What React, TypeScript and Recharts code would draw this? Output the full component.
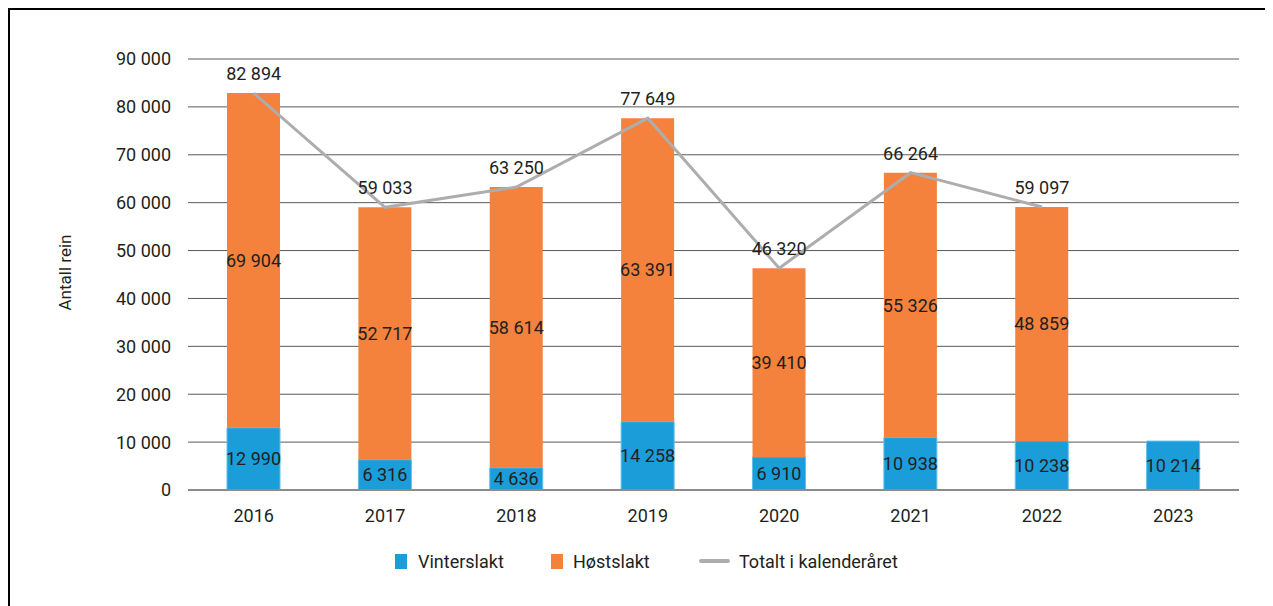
import React from 'react';
import { ComposedChart, Bar, Line, XAxis, YAxis, CartesianGrid, Legend, LabelList } from 'recharts';

const years = ['2016', '2017', '2018', '2019', '2020', '2021', '2022', '2023'];
const vinterslakt = [12990, 6316, 4636, 14258, 6910, 10938, 10238, 10214];
const hostslakt: (number | null)[] = [69904, 52717, 58614, 63391, 39410, 55326, 48859, null];
const totalt: (number | null)[] = [82894, 59033, 63250, 77649, 46320, 66264, 59097, null];
const yTicks = [0, 10000, 20000, 30000, 40000, 50000, 60000, 70000, 80000, 90000];

const data = years.map((y, i) => ({
  year: y,
  vinter: vinterslakt[i],
  host: hostslakt[i],
  total: totalt[i],
}));

const FONT = 'Roboto, "Open Sans", sans-serif';
const TEXT = '#231f20';
const BLUE = '#1a9dd9';
const ORANGE = '#f4813c';
const GRAY = '#adadb0';

const fmt = (v: any) => {
  if (v === null || v === undefined || v === '') return '';
  return String(v).replace(/\B(?=(\d{3})+(?!\d))/g, ' ');
};

const LegendContent = () => (
  <div
    style={{
      display: 'flex',
      justifyContent: 'flex-start',
      alignItems: 'center',
      height: 36,
      fontFamily: FONT,
      fontSize: 18,
      color: TEXT,
      paddingLeft: 385,
      boxSizing: 'border-box',
      whiteSpace: 'nowrap',
    }}
  >
    <div style={{ display: 'flex', alignItems: 'center', width: 156 }}>
      <span style={{ display: 'inline-block', width: 12, height: 15, background: BLUE, marginRight: 11 }} />
      <span>Vinterslakt</span>
    </div>
    <div style={{ display: 'flex', alignItems: 'center', width: 148 }}>
      <span style={{ display: 'inline-block', width: 12, height: 15, background: ORANGE, marginRight: 10 }} />
      <span>Høstslakt</span>
    </div>
    <div style={{ display: 'flex', alignItems: 'center' }}>
      <span style={{ display: 'inline-block', width: 31, height: 4, borderRadius: 2, background: GRAY, marginRight: 9 }} />
      <span>Totalt i kalenderåret</span>
    </div>
  </div>
);

const YLabel = (props: any) => {
  const vb = props.viewBox || { x: 0, y: 0, width: 0, height: 0 };
  const x = vb.x + 55;
  const y = vb.y + vb.height / 2 - 2;
  return (
    <text
      x={x}
      y={y}
      transform={`rotate(-90, ${x}, ${y})`}
      textAnchor="middle"
      dominantBaseline="central"
      fontFamily={FONT}
      fontSize={17}
      fill={TEXT}
    >
      Antall rein
    </text>
  );
};

export default function App() {
  return (
    <div
      style={{
        width: 1263,
        height: 596,
        borderLeft: '2px solid #000',
        borderTop: '2px solid #000',
        background: '#fff',
        overflow: 'hidden',
      }}
    >
      <ComposedChart
        width={1263}
        height={596}
        data={data}
        margin={{ top: 49, right: 34, bottom: 35, left: 0 }}
        barCategoryGap={0}
      >
        <CartesianGrid vertical={false} stroke="#5a5a5a" strokeWidth={1} />
        <XAxis
          dataKey="year"
          height={45}
          tickLine={false}
          tickSize={0}
          tickMargin={19}
          axisLine={{ stroke: '#8c8c8c', strokeWidth: 2 }}
          tick={{ fontFamily: FONT, fontSize: 18, fill: TEXT }}
        />
        <YAxis
          width={178}
          domain={[0, 90000]}
          ticks={yTicks}
          interval={0}
          tickFormatter={fmt}
          tickLine={false}
          axisLine={false}
          tickSize={0}
          tickMargin={17}
          tick={{ fontFamily: FONT, fontSize: 18, fill: TEXT }}
          label={<YLabel />}
        />
        <Legend
          verticalAlign="bottom"
          content={<LegendContent />}
          wrapperStyle={{ bottom: 27, left: 0, width: 1263 }}
        />
        <Bar dataKey="vinter" name="Vinterslakt" stackId="a" fill={BLUE} stroke="#5fc0ec" strokeWidth={1} barSize={53} isAnimationActive={false}>
          <LabelList dataKey="vinter" position="center" formatter={fmt} fill={TEXT} fontFamily={FONT} fontSize={18} />
        </Bar>
        <Bar dataKey="host" name="Høstslakt" stackId="a" fill={ORANGE} barSize={53} isAnimationActive={false}>
          <LabelList dataKey="host" position="center" formatter={fmt} fill={TEXT} fontFamily={FONT} fontSize={18} />
        </Bar>
        <Line
          dataKey="total"
          name="Totalt i kalenderåret"
          type="linear"
          stroke={GRAY}
          strokeWidth={3}
          dot={false}
          activeDot={false}
          isAnimationActive={false}
        >
          <LabelList dataKey="total" position="top" offset={13} formatter={fmt} fill={TEXT} fontFamily={FONT} fontSize={18} />
        </Line>
      </ComposedChart>
    </div>
  );
}
